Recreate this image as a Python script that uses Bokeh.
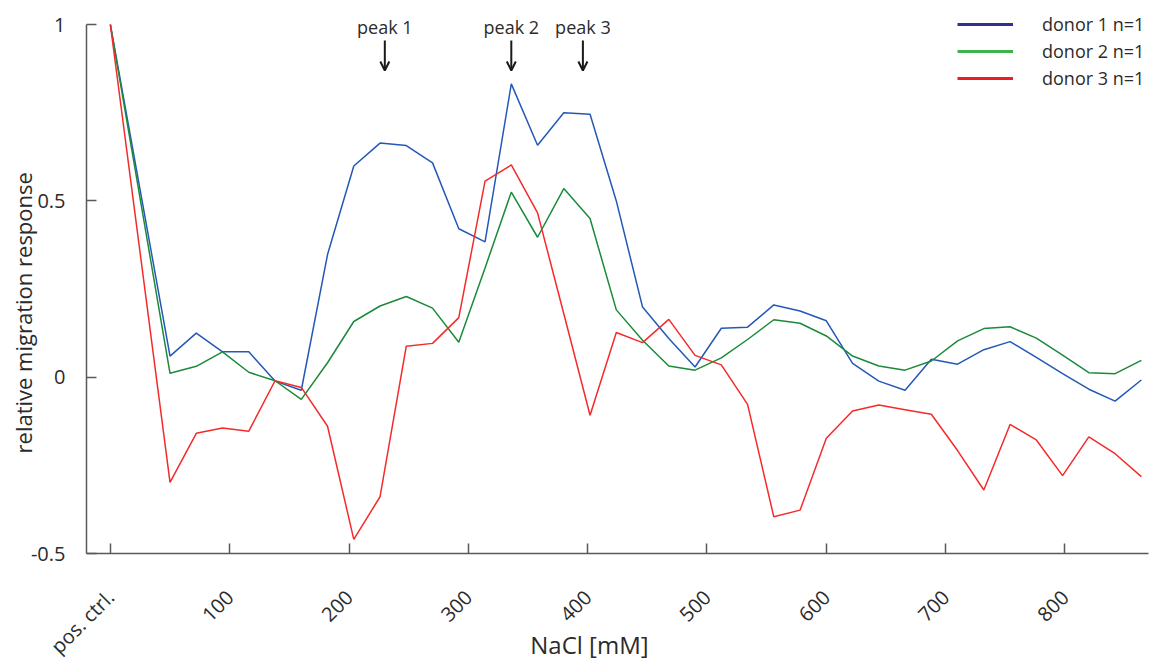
import math
from bokeh.plotting import figure
from bokeh.models import Range1d, FixedTicker, Legend, LegendItem, Arrow, OpenHead, Label
from bokeh.embed import file_html
from bokeh.resources import INLINE

# ---------------- data ----------------
nacl_mM = [0, 50, 72, 94, 116, 138, 160, 182, 204, 226, 248, 270, 292, 314, 336, 358,
           380, 402, 424, 446, 468, 490, 512, 534, 556, 578, 600, 622, 644, 666, 688,
           710, 732, 754, 776, 798, 820, 842, 864]

donor1 = [1.0, 0.060, 0.125, 0.072, 0.072, -0.011, -0.037, 0.348, 0.599, 0.664, 0.657,
          0.608, 0.421, 0.384, 0.832, 0.658, 0.750, 0.746, 0.500, 0.199, 0.110, 0.029,
          0.139, 0.142, 0.205, 0.188, 0.160, 0.039, -0.011, -0.037, 0.051, 0.037, 0.078,
          0.101, 0.056, 0.010, -0.034, -0.068, -0.008]

donor2 = [1.0, 0.011, 0.031, 0.072, 0.014, -0.010, -0.063, 0.041, 0.158, 0.202, 0.229,
          0.196, 0.099, 0.310, 0.525, 0.397, 0.535, 0.450, 0.191, 0.105, 0.032, 0.020,
          0.055, 0.107, 0.163, 0.153, 0.117, 0.060, 0.032, 0.020, 0.046, 0.103, 0.138,
          0.143, 0.111, 0.063, 0.013, 0.010, 0.048]

donor3 = [1.0, -0.298, -0.159, -0.144, -0.153, -0.010, -0.029, -0.139, -0.460, -0.339,
          0.088, 0.096, 0.169, 0.556, 0.602, 0.466, 0.180, -0.108, 0.127, 0.098, 0.164,
          0.062, 0.035, -0.077, -0.396, -0.377, -0.173, -0.096, -0.079, -0.092, -0.105,
          -0.208, -0.320, -0.134, -0.178, -0.279, -0.169, -0.217, -0.282]

series_names = ["donor 1 n=1", "donor 2 n=1", "donor 3 n=1"]

x_ticks = [0, 100, 200, 300, 400, 500, 600, 700, 800]
x_tick_labels = ["pos. ctrl.", "100", "200", "300", "400", "500", "600", "700", "800"]
y_ticks = [-0.5, 0, 0.5, 1]
y_tick_labels = ["-0.5", "0", "0.5", "1"]

peak_labels = ["peak 1", "peak 2", "peak 3"]
peak_x = [230, 336, 396]

# ---------------- styling ----------------
FONT = "Open Sans"
TXT = "#2b2b2b"
AX = "#595959"
NBSP = "\u00a0"
line_colors = ["#2458b8", "#1b8a3a", "#f52a2a"]
legend_colors = ["#2e3192", "#3cb44b", "#ed1c24"]

p = figure(width=1150, height=664, output_backend="svg", toolbar_location=None,
           x_range=Range1d(-20, 870), y_range=Range1d(-0.5, 1.06),
           min_border_left=86, min_border_right=2, min_border_top=3, min_border_bottom=111)
p.outline_line_color = None
p.xgrid.visible = False
p.ygrid.visible = False
p.background_fill_color = "white"
p.border_fill_color = "white"

for ys, col in zip([donor1, donor2, donor3], line_colors):
    p.line(nacl_mM, ys, line_color=col, line_width=1.5)

# legend via proxy renderers (no visible data) carrying the legend colours
items = []
for name, col in zip(series_names, legend_colors):
    r = p.line([float("nan")], [float("nan")], line_color=col, line_width=3)
    items.append(LegendItem(label=name, renderers=[r]))
legend = Legend(items=items, location=(871, 463), padding=0, margin=0,
                glyph_width=56, glyph_height=20, label_height=20, label_standoff=29,
                spacing=3, border_line_color=None, background_fill_alpha=0,
                label_text_font=FONT, label_text_font_size="18px", label_text_color=TXT)
p.add_layout(legend, "center")

# axes
xa = p.xaxis[0]
xa.ticker = FixedTicker(ticks=x_ticks)
xa.major_label_overrides = {t: l for t, l in zip(x_ticks, x_tick_labels)}
xa.major_label_orientation = math.pi / 4
xa.minor_tick_line_color = None
xa.major_tick_in = 10
xa.major_tick_out = 0
xa.major_label_standoff = 40
xa.axis_line_color = AX
xa.axis_line_width = 1.5
xa.major_tick_line_color = AX
xa.major_tick_line_width = 1.5
xa.major_label_text_font = FONT
xa.major_label_text_font_size = "20px"
xa.major_label_text_color = TXT
xa.axis_label = "NaCl [mM]" + NBSP * 9
xa.axis_label_text_font = FONT
xa.axis_label_text_font_size = "24px"
xa.axis_label_text_font_style = "normal"
xa.axis_label_text_color = TXT
xa.axis_label_standoff = -44

ya = p.yaxis[0]
ya.ticker = FixedTicker(ticks=y_ticks)
ya.bounds = (-0.5, 1.0)
ya.major_label_overrides = {t: l for t, l in zip(y_ticks, y_tick_labels)}
ya.minor_tick_line_color = None
ya.major_tick_in = 10
ya.major_tick_out = 0
ya.major_label_standoff = 21
ya.axis_line_color = AX
ya.axis_line_width = 1.5
ya.major_tick_line_color = AX
ya.major_tick_line_width = 1.5
ya.major_label_text_font = FONT
ya.major_label_text_font_size = "20px"
ya.major_label_text_color = TXT
ya.axis_label = "relative migration response" + NBSP * 12
ya.axis_label_text_font = FONT
ya.axis_label_text_font_size = "22px"
ya.axis_label_text_font_style = "normal"
ya.axis_label_text_color = TXT
ya.axis_label_standoff = -10

# peak annotations
for lab, px in zip(peak_labels, peak_x):
    p.add_layout(Label(x=px, y=0.992, text=lab, text_align="center", text_baseline="middle",
                       text_font=FONT, text_font_size="18px", text_color=TXT))
    p.add_layout(Arrow(x_start=px, y_start=0.955, x_end=px, y_end=0.870,
                       line_color="#1a1a1a", line_width=2,
                       end=OpenHead(size=9, line_color="#1a1a1a", line_width=2)))

open("out.html", "w").write(file_html(p, INLINE))
